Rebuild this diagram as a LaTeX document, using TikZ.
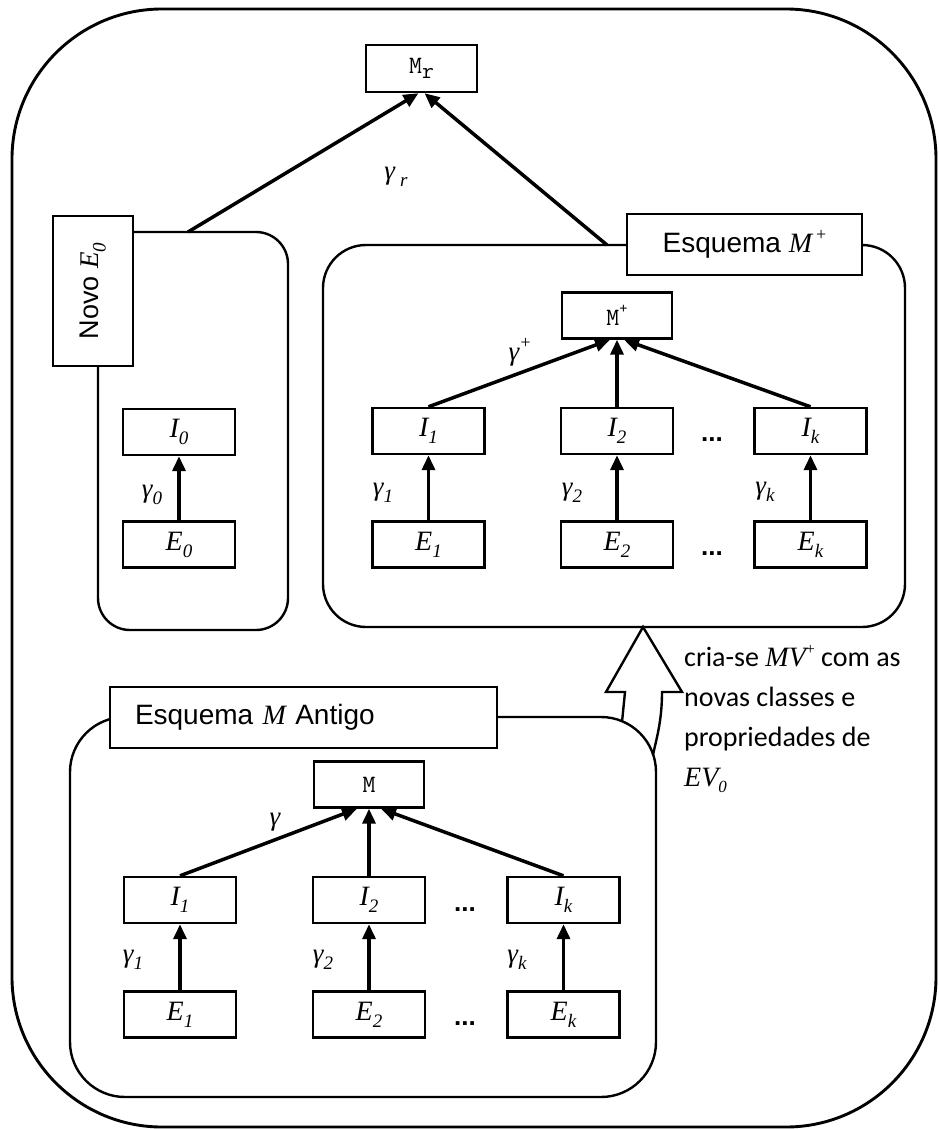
\documentclass[tikz,border=0pt]{standalone}
\usepackage{fontspec}
\setmainfont{Liberation Serif}
\newfontfamily\arialf{Liberation Sans}
\newfontfamily\calibf{Carlito}
\usetikzlibrary{arrows.meta}
\newcommand\tm[1]{{\rmfamily\itshape #1}}
\newcommand\lsub[1]{\raisebox{-0.25em}{\fontsize{19}{19}\selectfont\rmfamily\itshape #1}}
\newcommand\lsup[1]{\raisebox{0.45em}{\fontsize{18}{18}\selectfont\rmfamily #1}}
\newcommand\csub[1]{\raisebox{-0.22em}{\fontsize{17}{17}\selectfont\rmfamily\itshape #1}}
\newcommand\csup[1]{\raisebox{0.42em}{\fontsize{16}{16}\selectfont\rmfamily #1}}
\newcommand\tsub[1]{\raisebox{-0.22em}{\fontsize{23}{23}\selectfont\ttfamily #1}}
\newcommand\tsup[1]{\raisebox{0.5em}{\fontsize{16}{16}\selectfont\ttfamily #1}}
\begin{document}
\begin{tikzpicture}[x=1pt,y=-1pt,
  box/.style={draw, line width=2.4pt, inner sep=0pt, minimum width=112pt, minimum height=46pt,
    font=\fontsize{28}{28}\selectfont\itshape, fill=white},
  mbox/.style={box, minimum width=110pt, minimum height=46pt, font=\fontsize{25}{25}\selectfont\ttfamily},
  lbl/.style={draw, line width=2.4pt, fill=white, inner sep=0pt, font=\arialf\fontsize{28}{28}\selectfont},
  grp/.style={draw, line width=2.4pt},
  arr/.style={line width=3.5pt, -{Triangle[length=15pt,width=13pt]}},
  gam/.style={inner sep=0pt, font=\fontsize{27}{27}\selectfont\itshape},
  dotsn/.style={inner sep=0pt, anchor=base, font=\arialf\bfseries\fontsize{26}{26}\selectfont}]
\useasboundingbox (0,0) rectangle (938,1129);
% outer frame
\draw[line width=2.9pt, rounded corners=150pt] (12,9) rectangle (936,1127);
% group frames
\draw[grp, rounded corners=32pt] (98,232) rectangle (288,630);
\draw[grp, rounded corners=43pt] (323,245) rectangle (905,627);
\draw[grp, rounded corners=55pt] (70,717) rectangle (656,1097);
% top
\node[mbox, minimum width=111pt, minimum height=47pt] (mr) at (421.5,68.5) {M\tsub{r}};
\coordinate (nl) at (188,232);
\coordinate (nr) at (607,245);
\draw[arr] (nl) -- ([xshift=-3pt]mr.south);
\draw[arr] (nr) -- ([xshift=3pt]mr.south);
\node[gam] (gr) at (396,177) {γ\hspace{5pt}\lsub{r}};
% labels
\node[lbl, rotate=90, minimum width=150pt, minimum height=80pt, font=\arialf\fontsize{27}{27}\selectfont] (novo) at (93,291) {Novo \tm{E}\lsub{0}};
\node[lbl, minimum width=235pt, minimum height=61pt] (lp) at (744.5,244.5) {Esquema \tm{M}\hspace{4pt}\lsup{+}};
\node[lbl, minimum width=387pt, minimum height=61pt, text width=337pt, align=left] (la) at (303.5,717.5) {Esquema \tm{M} Antigo};
% left group
\node[box] (i0) at (179,432) {I\lsub{0}};
\node[box] (e0) at (179,544.5) {E\lsub{0}};
\draw[arr] (e0) -- (i0);
\node[gam] (g0) at (152,495) {γ\lsub{0}};
% middle group
\node[mbox] (mp) at (617,315.5) {M\tsup{+}};
\node[box] (pi1) at (428.5,431) {I\lsub{1}};
\node[box] (pi2) at (617,431) {I\lsub{2}};
\node[box] (pik) at (810.5,431) {I\lsub{k}};
\node[box] (pe1) at (428.5,544.5) {E\lsub{1}};
\node[box] (pe2) at (617,544.5) {E\lsub{2}};
\node[box] (pek) at (810.5,544.5) {E\lsub{k}};
\draw[arr] (pe1) -- (pi1);
\draw[arr] (pe2) -- (pi2);
\draw[arr] (pek) -- (pik);
\draw[arr] (pi1.north) -- ([xshift=-7pt]mp.south);
\draw[arr] (pi2) -- (mp);
\draw[arr] (pik.north) -- ([xshift=7pt]mp.south);
\node[gam] (gp) at (520,352) {γ\lsup{+}};
\node[gam] (gp1) at (383,493) {γ\lsub{1}};
\node[gam] (gp2) at (572,493) {γ\lsub{2}};
\node[gam] (gpk) at (765,492) {γ\lsub{k}};
\node[dotsn] (dp1) at (712,441) {...};
\node[dotsn] (dp2) at (712,555) {...};
% bottom group
\node[mbox] (m) at (369,784.5) {M};
\node[box] (bi1) at (180,900) {I\lsub{1}};
\node[box] (bi2) at (369,900) {I\lsub{2}};
\node[box] (bik) at (563.5,900) {I\lsub{k}};
\node[box] (be1) at (180,1014.5) {E\lsub{1}};
\node[box] (be2) at (369,1014.5) {E\lsub{2}};
\node[box] (bek) at (563.5,1014.5) {E\lsub{k}};
\draw[arr] (be1) -- (bi1);
\draw[arr] (be2) -- (bi2);
\draw[arr] (bek) -- (bik);
\draw[arr] (bi1.north) -- ([xshift=-12pt]m.south);
\draw[arr] (bi2) -- (m);
\draw[arr] (bik.north) -- ([xshift=12pt]m.south);
\node[gam] (gb) at (275,822) {γ};
\node[gam] (gb1) at (133,960) {γ\lsub{1}};
\node[gam] (gb2) at (323,960) {γ\lsub{2}};
\node[gam] (gbk) at (517,960) {γ\lsub{k}};
\node[dotsn] (db1) at (465,911) {...};
\node[dotsn] (db2) at (465,1025) {...};
% block arrow
\draw[line width=2.4pt, line join=miter] (622,722) -- (625,692) -- (606,692) -- (643,627) -- (682,692) -- (662,692) .. controls (662,722) and (656,740) .. (653,755);
\node[anchor=north west, inner sep=0pt, align=left, font=\calibf\fontsize{28}{40}\selectfont] (note) at (684,645)
  {cria-se \tm{MV}\csup{+} com as\\ novas classes e\\ propriedades de\\ \tm{EV}\csub{0}};
\end{tikzpicture}
\end{document}
